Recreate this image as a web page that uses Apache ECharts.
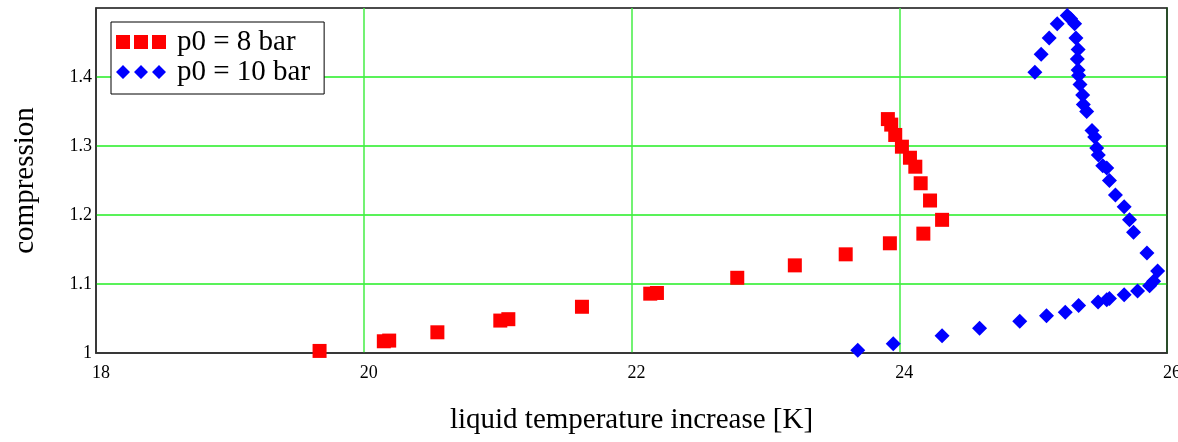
<!DOCTYPE html>
<html>
<head>
<meta charset="utf-8">
<script src="https://cdn.jsdelivr.net/npm/echarts@6/dist/echarts.min.js"></script>
<style>
  html, body { margin: 0; padding: 0; background: #fff; }
  #chart { width: 1178px; height: 442px; }
</style>
</head>
<body>
<div id="chart"></div>
<script>
// Liquid temperature increase [K] vs. compression ratio, two initial pressures
const seriesNames = ['p0 = 8 bar', 'p0 = 10 bar'];

const tempIncrease8bar = [
  19.67, 20.15, 20.19, 20.55, 21.02, 21.08, 21.63, 22.14, 22.19, 22.79,
  23.22, 23.60, 23.93, 24.18, 24.32, 24.23, 24.16, 24.12, 24.08, 24.02,
  23.97, 23.94, 23.915
];
const compression8bar = [
  1.003, 1.017, 1.018, 1.030, 1.047, 1.049, 1.067, 1.086, 1.087, 1.109,
  1.127, 1.143, 1.159, 1.173, 1.193, 1.221, 1.246, 1.270, 1.283, 1.299,
  1.316, 1.331, 1.339
];

const tempIncrease10bar = [
  23.69, 23.955, 24.32, 24.60, 24.90, 25.10, 25.24, 25.34, 25.485, 25.55,
  25.57, 25.68, 25.78, 25.87, 25.90, 25.93, 25.85, 25.75, 25.72, 25.68,
  25.615, 25.57, 25.55, 25.52, 25.487, 25.475, 25.46, 25.44, 25.40, 25.375,
  25.37, 25.35, 25.34, 25.336, 25.33, 25.336, 25.32, 25.31, 25.28, 25.255,
  25.18, 25.12, 25.06, 25.013
];
const compression10bar = [
  1.004, 1.0135, 1.025, 1.036, 1.046, 1.054, 1.059, 1.069, 1.074, 1.077,
  1.079, 1.0845, 1.090, 1.0975, 1.104, 1.119, 1.145, 1.175, 1.193, 1.212,
  1.229, 1.250, 1.268, 1.2715, 1.287, 1.297, 1.313, 1.3226, 1.350, 1.360,
  1.374, 1.389, 1.402, 1.410, 1.426, 1.440, 1.4565, 1.477, 1.4845, 1.489,
  1.477, 1.4565, 1.433, 1.407
];

const xTicks = { min: 18, max: 26, step: 2 };
const yTicks = { min: 1, max: 1.5, step: 0.1, lastLabelled: 1.4 };

function pairs(xs, ys) { return xs.map((x, i) => [x, ys[i]]); }

const serif = '"Liberation Serif", "DejaVu Serif", serif';

// three-marker legend icons
const squaresIcon = 'path://M0,0h14v14h-14zM18,0h14v14h-14zM36,0h14v14h-14z';
const diamondsIcon = 'path://M7,0L14,7L7,14L0,7zM25,0L32,7L25,14L18,7zM43,0L50,7L43,14L36,7z';

const chart = echarts.init(document.getElementById('chart'), null, { renderer: 'canvas' });

chart.setOption({
  animation: false,
  backgroundColor: '#ffffff',
  grid: {
    left: 96, right: 11, top: 8, bottom: 89,
    outerBoundsMode: 'none',
    containLabel: false,
    show: true, borderColor: '#111111', borderWidth: 1.5, backgroundColor: 'transparent'
  },
  legend: {
    orient: 'vertical',
    left: 111, top: 22,
    padding: [5, 14, 7, 5],
    itemGap: 0,
    itemWidth: 50, itemHeight: 14,
    backgroundColor: '#ffffff',
    borderColor: '#000000', borderWidth: 1,
    textStyle: { fontFamily: serif, fontSize: 29, color: '#000', lineHeight: 30, padding: [0, 0, 0, 6] },
    data: [
      { name: seriesNames[0], icon: squaresIcon, itemStyle: { opacity: 1 } },
      { name: seriesNames[1], icon: diamondsIcon, itemStyle: { opacity: 1 } }
    ]
  },
  xAxis: [
    {
      type: 'value',
      min: xTicks.min, max: xTicks.max, interval: xTicks.step,
      name: 'liquid temperature increase [K]',
      nameLocation: 'middle', nameGap: 53,
      nameTextStyle: { fontFamily: serif, fontSize: 29, color: '#000' },
      axisLine: { show: true, onZero: false, lineStyle: { color: '#333', width: 1.5 } },
      axisTick: { show: false },
      splitLine: { show: true, showMinLine: false, showMaxLine: false, lineStyle: { color: '#44ee44', width: 1.5 } },
      axisLabel: {
        fontFamily: serif, fontSize: 18, color: '#000', margin: 11,
        padding: [0, 0, 0, 10],
        formatter: v => String(Math.round(v))
      }
    }
  ],
  yAxis: [
    {
      type: 'value',
      min: yTicks.min, max: yTicks.max, interval: yTicks.step,
      name: 'compression',
      nameLocation: 'middle', nameGap: 56, nameRotate: 90,
      nameTextStyle: { fontFamily: serif, fontSize: 29, color: '#000' },
      axisLine: { show: true, onZero: false, lineStyle: { color: '#333', width: 1.5 } },
      axisTick: { show: false },
      splitLine: { show: true, showMinLine: false, showMaxLine: false, lineStyle: { color: '#22ee22', width: 1.5 } },
      axisLabel: {
        fontFamily: serif, fontSize: 18, color: '#000', margin: 4,
        padding: [6, 0, 0, 0],
        formatter: v => (v > yTicks.lastLabelled + 1e-6 ? '' : String(+v.toFixed(1)))
      }
    },
    {
      // right-hand frame edge
      type: 'value', position: 'right',
      min: yTicks.min, max: yTicks.max, interval: yTicks.step,
      axisLine: { show: true, onZero: false, lineStyle: { color: '#1f4f1f', width: 1.5 } },
      axisTick: { show: false }, axisLabel: { show: false }, splitLine: { show: false }
    }
  ],
  series: [
    {
      name: seriesNames[0], type: 'scatter',
      symbol: 'rect', symbolSize: 14,
      itemStyle: { color: '#ff0000', opacity: 1 },
      data: pairs(tempIncrease8bar, compression8bar)
    },
    {
      name: seriesNames[1], type: 'scatter',
      symbol: 'diamond', symbolSize: 15,
      itemStyle: { color: '#0000ff', opacity: 1 },
      data: pairs(tempIncrease10bar, compression10bar)
    }
  ]
});
</script>
</body>
</html>
